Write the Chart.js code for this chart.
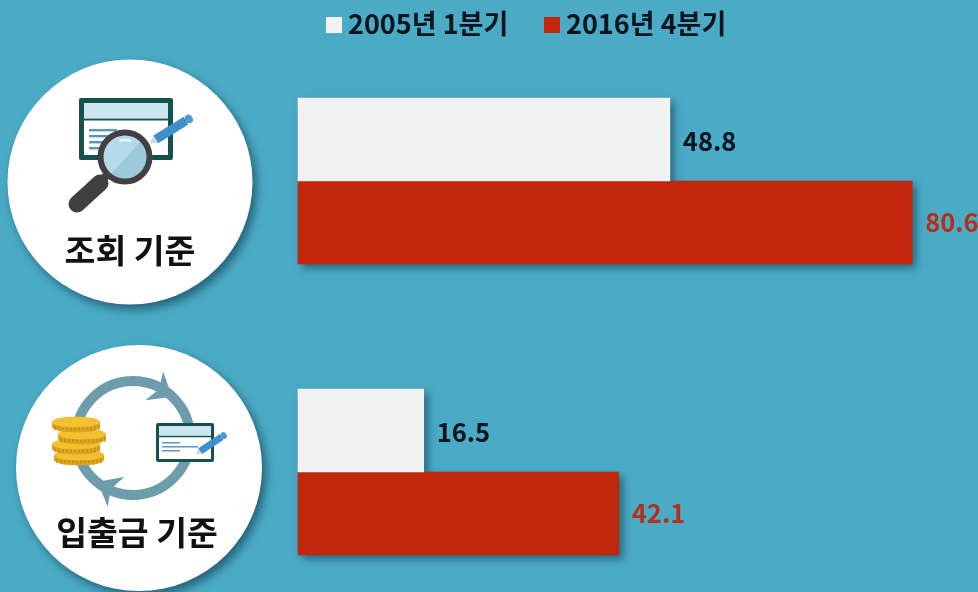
<!DOCTYPE html>
<html><head><meta charset="utf-8">
<script src="https://cdn.jsdelivr.net/npm/chart.js@4"></script>
<style>html,body{margin:0;padding:0;background:#4babc6;overflow:hidden}canvas{display:block}</style>
</head><body><canvas id="c" width="978" height="592"></canvas>
<script>
const categories = ['조회 기준', '입출금 기준'];
const seriesNames = ['2005년 1분기', '2016년 4분기'];
const values2005 = [48.8, 16.5];
const values2016 = [80.6, 42.1];
const FONT = '"Noto Sans CJK KR","Noto Sans",sans-serif';
const BG = '#4babc6', WHITE = '#f2f2f2', RED = '#c0270c';
const LABEL_COL = ['#07141c', '#b5301b'];

function rr(c,x,y,w,h,r){c.beginPath();c.roundRect(x,y,w,h,r);}
function pen(c,x1,y1,x2,y2,w){
  const a=Math.atan2(y2-y1,x2-x1),l=Math.hypot(x2-x1,y2-y1);
  c.save();c.translate(x1,y1);c.rotate(a);
  c.beginPath();c.moveTo(0,0);c.lineTo(l*0.14,-w/2);c.lineTo(l*0.14,w/2);c.closePath();c.fillStyle='#cfd8dc';c.fill();
  c.fillStyle='#3f8fce';c.fillRect(l*0.14,-w/2,l*0.68,w);
  c.fillStyle='#2e6fa8';c.fillRect(l*0.82,-w/2,l*0.03,w);
  c.fillStyle='#4a9ad4';rr(c,l*0.85,-w/2,l*0.15,w,w/2);c.fill();
  c.restore();
}
function card(c,x,y,w,h,s){
  c.fillStyle='#14524f';rr(c,x,y,w,h,2);c.fill();
  c.fillStyle='#ffffff';c.fillRect(x+s,y+s,w-2*s,h-2*s);
  c.fillStyle='#cbe6ef';c.fillRect(x+s,y+s,w-2*s,h*0.24);
  c.fillStyle='#14524f';c.fillRect(x,y+s+h*0.25,w,Math.max(1.5,s*0.4));
}
function coin(c,cx,cy,rx,ry,h){
  c.fillStyle='#dba51f';
  c.beginPath();c.ellipse(cx,cy+h,rx,ry,0,0,Math.PI*2);c.fill();
  c.fillRect(cx-rx,cy,2*rx,h);
  c.strokeStyle='#b9851a';c.lineWidth=1;
  for(let i=-rx+3;i<rx;i+=4){c.beginPath();c.moveTo(cx+i,cy+ry*0.6);c.lineTo(cx+i,cy+h+ry*0.6);c.stroke();}
  c.fillStyle='#f3c12f';
  c.beginPath();c.ellipse(cx,cy,rx,ry,0,0,Math.PI*2);c.fill();
}
function arrowHead(c,x,y,a){
  c.save();c.translate(x,y);c.rotate(a);c.fillStyle='#6d9cab';
  c.beginPath();c.moveTo(13,0);c.lineTo(-8,-17);c.lineTo(-2,0);c.lineTo(-8,17);c.closePath();c.fill();c.restore();
}
function disc(c,x,y,r){
  c.save();c.shadowColor='rgba(10,50,70,.6)';c.shadowBlur=10;c.shadowOffsetX=4;c.shadowOffsetY=5;
  c.fillStyle='#fff';c.beginPath();c.arc(x,y,r,0,Math.PI*2);c.fill();c.restore();
}
function icon1(c){
  card(c,79,98,94,62,5);
  c.fillStyle='#5a93c8';
  [129,135,141,147].forEach(y=>c.fillRect(89,y,28,2.4));
  pen(c,150,143,192,117,9);
  c.strokeStyle='#423f40';c.lineCap='round';
  c.lineWidth=8;c.beginPath();c.moveTo(108,174);c.lineTo(96,186);c.stroke();
  c.lineWidth=17;c.beginPath();c.moveTo(100,183);c.lineTo(77,204);c.stroke();c.lineCap='butt';
  c.fillStyle='#b3dbea';c.beginPath();c.arc(125,157,24,0,Math.PI*2);c.fill();
  c.fillStyle='#9ccadd';c.beginPath();c.moveTo(142,140);c.lineTo(110,175);c.arc(125,157,24,2.3,-0.75,true);c.closePath();c.fill();
  c.strokeStyle='#423f40';c.lineWidth=6;c.beginPath();c.arc(125,157,24.5,0,Math.PI*2);c.stroke();
  c.strokeStyle='#e8f6fb';c.lineWidth=2.5;c.beginPath();c.arc(125,157,17,-1.9,-1.2);c.stroke();
}
function icon2(c){
  c.strokeStyle='#6d9cab';c.lineWidth=10;c.beginPath();c.arc(133,438,57,0,Math.PI*2);c.stroke();
  arrowHead(c,161,390,0.55);arrowHead(c,109,488,3.65);
  coin(c,79,455,25,5.5,5);coin(c,76,444,24,5.5,5);coin(c,82,434,24,5.5,5);coin(c,76,422,24,5.5,5);
  card(c,156,423,58,39,3);
  c.fillStyle='#5a93c8';
  [442,446,450].forEach((y,i)=>c.fillRect(162,y,i==1?36:18,1.5));
  pen(c,196,454,226,434,7);
}
const background = {
  id:'background',
  beforeDraw(ch){
    const c=ch.ctx;c.save();c.fillStyle=BG;c.fillRect(0,0,ch.width,ch.height);
    disc(c,130,182,122.5);disc(c,139,468,123);
    icon1(c);icon2(c);
    c.fillStyle='#111';c.textAlign='center';c.textBaseline='middle';
    c.font='bold 33.5px '+FONT;
    c.fillText(categories[0],130,250);
    c.fillText(categories[1],137,532);
    c.textAlign='left';c.font='bold 27px '+FONT;
    [[326,348],[544,566]].forEach((p,i)=>{
      c.fillStyle=i?RED:WHITE;c.fillRect(p[0],17,16,16);
      c.fillStyle='#07141c';c.fillText(seriesNames[i],p[1],24);
    });
    c.restore();
  },
  beforeDatasetsDraw(ch){
    const c=ch.ctx;c.save();c.shadowColor='rgba(10,50,70,.55)';c.shadowBlur=8;c.shadowOffsetX=4;c.shadowOffsetY=4;c.fillStyle='#2f7f99';
    ch.data.datasets.forEach((d,i)=>ch.getDatasetMeta(i).data.forEach(el=>{
      c.fillRect(el.base,el.y-el.height/2,el.x-el.base,el.height);
    }));
    c.restore();
  },
  afterDatasetsDraw(ch){
    const c=ch.ctx;c.save();c.font='bold 25.5px '+FONT;c.textAlign='left';c.textBaseline='middle';
    ch.data.datasets.forEach((d,i)=>ch.getDatasetMeta(i).data.forEach((el,j)=>{
      c.fillStyle=LABEL_COL[i];c.fillText(d.data[j].toFixed(1),el.x+13,el.y+(i?0:2));
    }));
    c.restore();
  }
};
new Chart(document.getElementById('c'),{
  type:'bar',
  data:{labels:categories,datasets:[
    {label:seriesNames[0],data:values2005,backgroundColor:WHITE,barThickness:83,clip:false},
    {label:seriesNames[1],data:values2016,backgroundColor:RED,barThickness:83,clip:false}
  ]},
  options:{
    indexAxis:'y',responsive:false,animation:false,
    layout:{padding:{left:298,right:32.3,top:181,bottom:120}},
    plugins:{legend:{display:false},title:{display:false},tooltip:{enabled:false}},
    scales:{
      x:{display:false,min:0,max:85},
      y:{display:false,offset:false}
    }
  },
  plugins:[background]
});
</script></body></html>
